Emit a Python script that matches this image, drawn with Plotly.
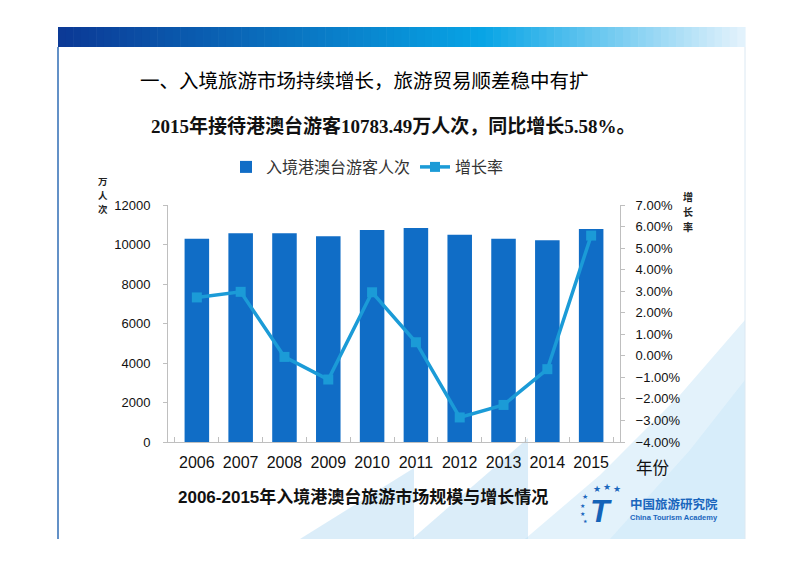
import plotly.graph_objects as go

years = ["2006", "2007", "2008", "2009", "2010", "2011", "2012", "2013", "2014", "2015"]
visitors = [10290, 10570, 10570, 10420, 10740, 10830, 10490, 10290, 10210, 10783.49]
growth = [0.0271, 0.0297, -0.0005, -0.0110, 0.0295, 0.0063, -0.0286, -0.0228, -0.0062, 0.0558]
left_ticks = [0, 2000, 4000, 6000, 8000, 10000, 12000]
right_ticks = [-0.04, -0.03, -0.02, -0.01, 0.0, 0.01, 0.02, 0.03, 0.04, 0.05, 0.06, 0.07]

W, H = 800, 565
OFF = 8  # page body offset
L, T = 168, 205          # plot area in screen pixels
PW, PH = 452, 237
ML, MT = L - OFF, T - OFF
MR = W - ML - PW
MB = H - MT - PH


def px(x):
    return (x - L) / PW


def py(y):
    return (T + PH - y) / PH


BAR = "#106dc6"
LINE = "#1b9bd7"
CJK = "Noto Sans CJK SC"
SANS = "Liberation Sans, Arial, " + CJK
SERIF = "Liberation Serif, " + CJK

fig = go.Figure()
fig.add_trace(go.Bar(x=years, y=visitors, name="入境港澳台游客人次",
                     marker=dict(color=BAR, line=dict(width=0)), yaxis="y"))
fig.add_trace(go.Scatter(x=years, y=growth, name="增长率", mode="lines+markers",
                         line=dict(color=LINE, width=3.5),
                         marker=dict(symbol="square", size=10, color=LINE),
                         yaxis="y2"))

shapes = []
# banner gradient
c0 = (12, 58, 150)
c1 = (8, 165, 230)
c2 = (226, 242, 252)
n = 90
x0b, x1b = 58, 745
for i in range(n):
    t = i / (n - 1)
    if t < 0.62:
        u = t / 0.62
        c = tuple(int(c0[k] + (c1[k] - c0[k]) * u) for k in range(3))
    else:
        u = (t - 0.62) / 0.38
        c = tuple(int(c1[k] + (c2[k] - c1[k]) * u) for k in range(3))
    xa = x0b + (x1b - x0b) * i / n
    xb = x0b + (x1b - x0b) * (i + 1) / n + 0.6
    shapes.append(dict(type="rect", xref="paper", yref="paper", x0=px(xa), x1=px(xb),
                       y0=py(47), y1=py(27), fillcolor="rgb(%d,%d,%d)" % c,
                       line=dict(width=0), layer="below"))


def path(pts):
    return "M " + " L ".join("%.4f,%.4f" % (px(a), py(b)) for a, b in pts) + " Z"


decor = [
    ([(300, 539), (414, 468), (414, 539)], "rgba(175,215,242,0.45)"),
    ([(412, 539), (528, 438), (528, 539)], "rgba(175,215,242,0.45)"),
    ([(525, 539), (600, 475), (680, 395), (745, 320), (745, 539)], "rgba(185,222,246,0.4)"),
    ([(610, 539), (690, 450), (745, 380), (745, 539)], "rgba(200,230,248,0.45)"),
]
for pts, col in decor:
    shapes.append(dict(type="path", xref="paper", yref="paper", path=path(pts),
                       fillcolor=col, line=dict(width=0), layer="below"))

# slide borders
shapes.append(dict(type="line", xref="paper", yref="paper", x0=px(58), x1=px(58),
                   y0=py(47), y1=py(539), line=dict(color="#2f6db5", width=1.5)))
shapes.append(dict(type="line", xref="paper", yref="paper", x0=px(745), x1=px(745),
                   y0=py(47), y1=py(539), line=dict(color="#dbe8f2", width=1)))


def ann(text, x, y, size, family=CJK, color="#111111", xanchor="left"):
    return dict(text=text, x=px(x), y=py(y), xanchor=xanchor, yanchor="middle",
                font=dict(family=family, size=size, color=color), showarrow=False,
                xref="paper", yref="paper")


annotations = [
    ann("一、入境旅游市场持续增长，旅游贸易顺差稳中有扩", 138, 82, 19.5, SERIF, "#000000"),
    ann("<b>2015年接待港澳台游客10783.49万人次，同比增长5.58%。</b>", 149, 126, 19, SERIF),
    ann("年份", 634, 467, 16.5),
    ann("<b>2006-2015年入境港澳台旅游市场规模与增长情况</b>", 176, 497, 17, SANS),
    # logo
    ann("<b><i>T</i></b>", 601, 511, 32, "Liberation Sans", "#1463b8", "center"),
    ann("<b>中国旅游研究院</b>", 628, 503, 12.5, CJK, "#1a66bd"),
    ann("<b>China Tourism Academy</b>", 628, 517, 7.5, "Liberation Sans", "#1a66bd"),
]
for ch, yy in zip("万人次", [181, 195, 209]):
    annotations.append(ann("<b>%s</b>" % ch, 103, yy, 9.5, CJK, "#222222", "center"))
for ch, yy in zip("增长率", [196, 211, 226]):
    annotations.append(ann("<b>%s</b>" % ch, 688, yy, 10, CJK, "#222222", "center"))
for sx, sy, ss in [(597, 489, 9), (607, 487, 9), (617, 489, 9), (585, 497, 7),
                   (582, 505, 6), (582, 513, 6), (585, 521, 5)]:
    annotations.append(ann("★", sx, sy, ss, "DejaVu Sans", "#1a66bd", "center"))

axis_line = "#bfbfbf"
fig.update_layout(
    width=W, height=H, autosize=False,
    margin=dict(l=ML, r=MR, t=MT, b=MB, pad=0),
    paper_bgcolor="white", plot_bgcolor="rgba(0,0,0,0)",
    bargap=0.44, showlegend=True,
    legend=dict(orientation="h", x=px(226), y=py(167), xanchor="left", yanchor="middle",
                font=dict(family=CJK, size=16, color="#333333"), bgcolor="rgba(0,0,0,0)",
                traceorder="normal"),
    xaxis=dict(type="category", ticks="inside", tickson="boundaries", ticklen=5,
               tickcolor=axis_line, showline=True, linecolor=axis_line, showgrid=False,
               tickangle=0, ticklabelstandoff=6,
               tickfont=dict(family=SANS, size=16, color="#111111")),
    yaxis=dict(range=[0, 12000], tickvals=left_ticks, tickformat="d", ticks="outside",
               ticklen=4, tickcolor=axis_line, showline=True, linecolor=axis_line,
               showgrid=False, zeroline=False, ticklabelstandoff=10,
               tickfont=dict(family=SANS, size=13, color="#111111")),
    yaxis2=dict(range=[-0.04, 0.07], tickvals=right_ticks, tickformat=".2%", overlaying="y",
                side="right", ticks="outside", ticklen=4, tickcolor=axis_line, showline=True,
                linecolor=axis_line, showgrid=False, zeroline=False, ticklabelstandoff=8,
                tickfont=dict(family=SANS, size=13, color="#111111")),
    shapes=shapes, annotations=annotations,
)

fig.write_html("out.html")
